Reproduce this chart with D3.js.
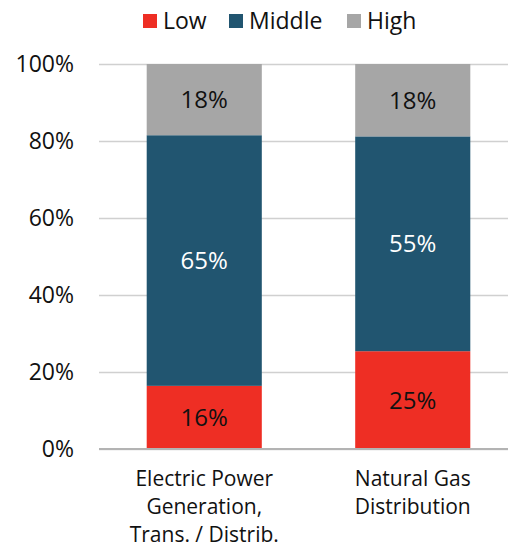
<!DOCTYPE html>
<html>
<head>
<meta charset="utf-8">
<script src="https://cdn.jsdelivr.net/npm/d3@7"></script>
<style>
  body { margin: 0; background: #fff; }
  text { font-family: 'Open Sans', sans-serif; }
</style>
</head>
<body>
<div id="chart"></div>
<script>
// data
const categories = ['Electric Power Generation, Trans. / Distrib.', 'Natural Gas Distribution'];
const categoryLines = [['Electric Power', 'Generation,', 'Trans. / Distrib.'], ['Natural Gas', 'Distribution']];
const seriesNames = ['Low', 'Middle', 'High'];
const lowValues = [16.4, 25.4];
const middleValues = [65.1, 55.8];
const highValues = [18.5, 18.8];
const yTicks = [0, 20, 40, 60, 80, 100];
const colors = ['#ee2e24', '#215570', '#a6a6a6'];

const width = 508, height = 549;
const margin = { top: 64, right: 0, bottom: 100, left: 99 };

const svg = d3.select('#chart').append('svg')
  .attr('width', width)
  .attr('height', height);

const rows = categories.map((c, i) => ({
  category: c,
  Low: lowValues[i],
  Middle: middleValues[i],
  High: highValues[i]
}));

const stack = d3.stack().keys(seriesNames)(rows);

const x = d3.scaleBand()
  .domain(categories)
  .range([margin.left + 1, margin.left + 418])
  .paddingInner(0.448)
  .paddingOuter(0.224);

const y = d3.scaleLinear()
  .domain([0, 100])
  .range([height - margin.bottom, margin.top]);

// gridlines
svg.append('g')
  .attr('class', 'y grid')
  .attr('transform', 'translate(' + margin.left + ',0)')
  .call(d3.axisLeft(y).tickValues(yTicks).tickSize(-(width - margin.left)).tickFormat(''))
  .call(g => g.select('.domain').remove())
  .call(g => g.selectAll('line').attr('stroke', '#d0d0d0').attr('stroke-width', 1.5));

// bars
const color = d3.scaleOrdinal().domain(seriesNames).range(colors);
const layers = svg.append('g').selectAll('g')
  .data(stack)
  .join('g')
  .attr('fill', d => color(d.key));

layers.selectAll('rect')
  .data(d => d)
  .join('rect')
  .attr('x', d => x(d.data.category))
  .attr('y', d => y(d[1]))
  .attr('width', x.bandwidth())
  .attr('height', d => y(d[0]) - y(d[1]));

// value labels
layers.selectAll('text')
  .data(d => d.map(v => ({ v, key: d.key })))
  .join('text')
  .attr('x', d => x(d.v.data.category) + x.bandwidth() / 2)
  .attr('y', d => (y(d.v[0]) + y(d.v[1])) / 2)
  .attr('dy', '0.36em')
  .attr('text-anchor', 'middle')
  .attr('font-size', 24)
  .attr('fill', d => d.key === 'Middle' ? '#fff' : '#111')
  .text(d => Math.floor(d.v.data[d.key]) + '%');

// baseline
svg.append('line')
  .attr('x1', margin.left)
  .attr('x2', width)
  .attr('y1', y(0))
  .attr('y2', y(0))
  .attr('stroke', '#b3b3b3')
  .attr('stroke-width', 2);

// y axis labels
svg.append('g')
  .selectAll('text')
  .data(yTicks)
  .join('text')
  .attr('x', 74)
  .attr('y', d => y(d))
  .attr('dy', '0.36em')
  .attr('text-anchor', 'end')
  .attr('font-size', 23)
  .attr('fill', '#111')
  .text(d => d + '%');

// category labels
const catG = svg.append('g')
  .selectAll('text')
  .data(categories)
  .join('text')
  .attr('x', d => x(d) + x.bandwidth() / 2)
  .attr('y', 486)
  .attr('text-anchor', 'middle')
  .attr('font-size', 21)
  .attr('fill', '#111');

catG.selectAll('tspan')
  .data((d, i) => categoryLines[i])
  .join('tspan')
  .attr('x', function() { return d3.select(this.parentNode).attr('x'); })
  .attr('dy', (d, i) => i === 0 ? 0 : 28)
  .text(d => d);

// legend
const legendX = [143, 229, 347];
const legend = svg.append('g').selectAll('g')
  .data(seriesNames)
  .join('g')
  .attr('transform', (d, i) => 'translate(' + legendX[i] + ',14)');

legend.append('rect')
  .attr('width', 14)
  .attr('height', 14)
  .attr('fill', d => color(d));

legend.append('text')
  .attr('x', 20)
  .attr('y', 7)
  .attr('dy', '0.36em')
  .attr('font-size', 23)
  .attr('fill', '#111')
  .text(d => d);
</script>
</body>
</html>
